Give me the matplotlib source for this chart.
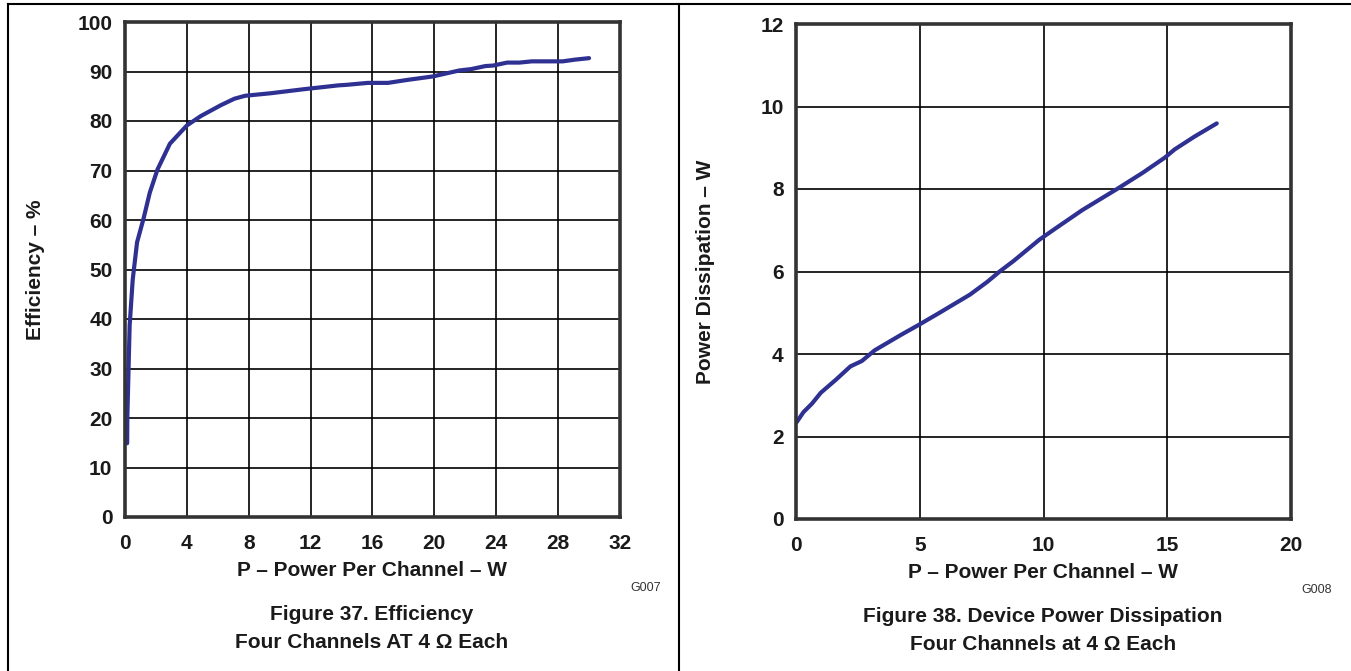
import matplotlib
matplotlib.use("Agg")
import matplotlib.pyplot as plt
from matplotlib.lines import Line2D

plt.rcParams['font.family'] = ['Liberation Sans', 'DejaVu Sans']

# ---- data: Figure 37 (efficiency) ----
eff_power = [0.14, 0.15, 0.3, 0.5, 0.78, 1.2, 1.6, 2.1, 2.9, 4.0, 4.9, 6.2, 7.07, 7.77,
             9.4, 11.5, 13.8, 14.3, 15.7, 17.0, 18.25, 19.9, 21.6, 22.4, 23.3, 23.8,
             24.7, 25.5, 26.3, 28.3, 29.1, 30.0]
eff_pct = [14.9, 20.0, 38.7, 48.0, 55.5, 60.3, 65.5, 70.2, 75.4, 79.1, 81.0, 83.2, 84.5, 85.1,
           85.6, 86.4, 87.2, 87.3, 87.7, 87.7, 88.3, 89.0, 90.2, 90.5, 91.1, 91.2,
           91.8, 91.8, 92.05, 92.05, 92.4, 92.7]

# ---- data: Figure 38 (power dissipation) ----
pd_power = [0.03, 0.3, 0.65, 1.0, 1.6, 2.2, 2.66, 3.18, 4.23, 5.0, 5.8, 7.03, 7.73, 8.25,
            8.78, 9.83, 10.5, 11.57, 12.97, 14.0, 14.9, 15.3, 16.1, 17.0]
pd_watts = [2.35, 2.59, 2.8, 3.06, 3.37, 3.7, 3.83, 4.09, 4.46, 4.72, 5.0, 5.44, 5.75, 6.01,
            6.25, 6.77, 7.05, 7.49, 8.0, 8.39, 8.76, 8.96, 9.27, 9.59]

eff_xticks = [0, 4, 8, 12, 16, 20, 24, 28, 32]
eff_yticks = [0, 10, 20, 30, 40, 50, 60, 70, 80, 90, 100]
pd_xticks = [0, 5, 10, 15, 20]
pd_yticks = [0, 2, 4, 6, 8, 10, 12]

W, H = 1351, 671
fig = plt.figure(figsize=(W / 100, H / 100), dpi=100)

CURVE = '#2e3192'
FS = 15
TXT = '#1a1a1a'


def px_axes(l, r, t, b):
    return fig.add_axes([l / W, 1 - b / H, (r - l) / W, (b - t) / H])


def style(ax, xt, yt, xlabel, ylabel, ylab_x, xlab_y):
    ax.set_xticks(xt)
    ax.set_yticks(yt)
    ax.set_xlim(xt[0], xt[-1])
    ax.set_ylim(yt[0], yt[-1])
    ax.grid(True, color='black', linewidth=1.2)
    ax.set_axisbelow(True)
    for s in ax.spines.values():
        s.set_linewidth(2.6)
        s.set_color('#333333')
    ax.tick_params(length=0, labelsize=FS, pad=9)
    ax.tick_params(axis='x', pad=12)
    for lab in ax.get_xticklabels() + ax.get_yticklabels():
        lab.set_fontweight('bold')
        lab.set_color(TXT)
    ax.set_xlabel(xlabel, fontsize=FS, fontweight='bold', color=TXT, va='center')
    ax.set_ylabel(ylabel, fontsize=FS, fontweight='bold', color=TXT, va='center')
    ax.yaxis.set_label_coords(ylab_x, 0.5)
    ax.xaxis.set_label_coords(0.5, xlab_y)


ax1 = px_axes(125, 620, 22, 517)
ax1.plot(eff_power, eff_pct, color=CURVE, linewidth=3, solid_capstyle='round')
style(ax1, eff_xticks, eff_yticks, 'P \u2013 Power Per Channel \u2013 W', 'Efficiency \u2013 %',
      (35 - 125) / 495, -(570 - 517) / 495)

ax2 = px_axes(796, 1291, 24, 519)
ax2.plot(pd_power, pd_watts, color=CURVE, linewidth=3, solid_capstyle='round')
style(ax2, pd_xticks, pd_yticks, 'P \u2013 Power Per Channel \u2013 W', 'Power Dissipation \u2013 W',
      (705 - 796) / 495, -(572 - 519) / 495)


def ftext(x, y, s, **kw):
    fig.text(x / W, 1 - y / H, s, **kw)


ftext(372, 614, 'Figure 37. Efficiency', ha='center', va='center', fontsize=FS, fontweight='bold', color=TXT)
ftext(372, 642, 'Four Channels AT 4 \u03a9 Each', ha='center', va='center', fontsize=FS, fontweight='bold', color=TXT)
ftext(661, 588, 'G007', ha='right', va='center', fontsize=9, color='#333333')

ftext(1043, 617, 'Figure 38. Device Power Dissipation', ha='center', va='center', fontsize=FS, fontweight='bold', color=TXT)
ftext(1043, 645, 'Four Channels at 4 \u03a9 Each', ha='center', va='center', fontsize=FS, fontweight='bold', color=TXT)
ftext(1332, 590, 'G008', ha='right', va='center', fontsize=9, color='#333333')

# frame lines
fig.add_artist(Line2D([8 / W, 1], [1 - 4 / H, 1 - 4 / H], color='black', linewidth=1.5))
fig.add_artist(Line2D([8 / W, 8 / W], [0, 1 - 4 / H], color='black', linewidth=1.5))
fig.add_artist(Line2D([679 / W, 679 / W], [0, 1 - 4 / H], color='black', linewidth=1.5))

fig.savefig('out.png', dpi=100)
